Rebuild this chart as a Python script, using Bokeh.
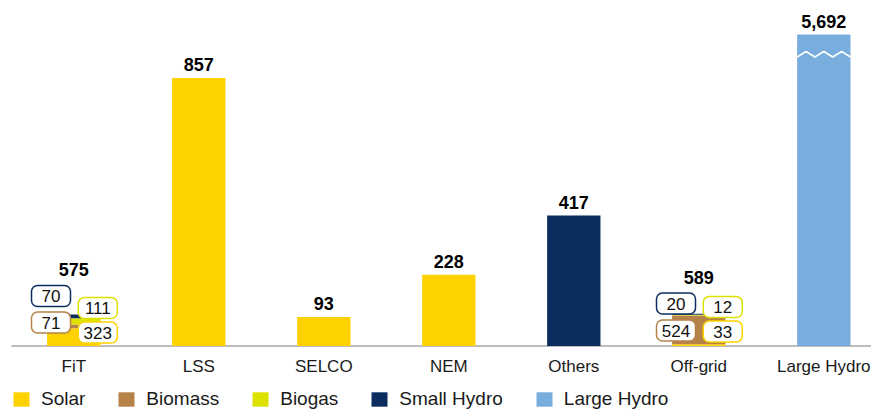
from bokeh.plotting import figure
from bokeh.models import Range1d, ColumnDataSource, Legend, LegendItem
from bokeh.core.properties import value
from bokeh.embed import file_html
from bokeh.resources import INLINE

# ---------------- data ----------------
categories = ["FiT", "LSS", "SELCO", "NEM", "Others", "Off-grid", "Large Hydro"]
solar = [323, 857, 93, 228, 0, 33, 0]
biomass = [71, 0, 0, 0, 0, 524, 0]
biogas = [111, 0, 0, 0, 0, 12, 0]
small_hydro = [70, 0, 0, 0, 417, 20, 0]
large_hydro = [0, 0, 0, 0, 0, 0, 5692]
# categories drawn on the true (compressed) scale; the others are magnified
true_scale = [True, False, False, False, False, True, True]
series_names = ["Solar", "Biomass", "Biogas", "Small Hydro", "Large Hydro"]

# ---------------- style / layout ----------------
colors = ["#FED200", "#B5834A", "#DDE100", "#0B2E5F", "#78ADDE"]
FONT = "Liberation Sans"
W, H = 871, 410
BASE = 64.5          # px from the frame bottom to the zero line
PXU = 125.0          # px per category
X0 = -0.5864
K_MAIN = 0.3128      # px per unit (magnified scale)
K_TRUE = 0.05473     # px per unit (true scale)
BAR_W = 0.4267

keys = ["solar", "biomass", "biogas", "small_hydro", "large_hydro"]
series = [solar, biomass, biogas, small_hydro, large_hydro]
totals = [sum(s[i] for s in series) for i in range(len(categories))]

p = figure(width=W, height=H,
           x_range=Range1d(X0, X0 + W / PXU),
           y_range=Range1d(-BASE / K_MAIN, (H - BASE) / K_MAIN),
           x_axis_type=None, y_axis_type=None,
           toolbar_location=None, output_backend="svg",
           min_border=0, outline_line_color=None)
p.extra_y_ranges = {"true": Range1d(-BASE / K_TRUE, (H - BASE) / K_TRUE),
                    "px": Range1d(-BASE, H - BASE)}

# baseline
p.segment(x0=[-0.5], y0=[0], x1=[len(categories) - 0.5 + 2], y1=[0],
          line_color="#BDBDBD", line_width=2)

def make_src(flag):
    idx = [i for i in range(len(categories)) if true_scale[i] == flag]
    d = {"x": idx}
    for k, s in zip(keys, series):
        d[k] = [s[i] for i in idx]
    return ColumnDataSource(d)

rs_main = p.vbar_stack(keys, x="x", width=BAR_W, fill_color=colors, line_color=None,
                       source=make_src(False))
rs_true = p.vbar_stack(keys, x="x", width=BAR_W, fill_color=colors, line_color=None,
                       source=make_src(True), y_range_name="true")

# zigzag break on the large hydro bar
lh = categories.index("Large Hydro")
top_px = totals[lh] * K_TRUE
zx = [lh + (f / 6 - 0.5) * BAR_W for f in range(7)]
zy = [top_px - (17 if f % 2 else 22.5) for f in range(7)]
p.line(zx, zy, line_color="white", line_width=1.6, y_range_name="px")

# callout boxes for stacked bars: (series index, column, centre px above baseline)
box_layout = {
    "FiT": [(3, "L", 50), (1, "L", 23.5), (2, "R", 38), (0, "R", 13.5)],
    "Off-grid": [(3, "L", 42.5), (1, "L", 15.5), (2, "R", 39), (0, "R", 14.5)],
}
bx, by, bt, bc = [], [], [], []
total_y = {}
for cat, items in box_layout.items():
    ci = categories.index(cat)
    tops = []
    for si, col, ypx in items:
        left = -42.3 if col == "L" else 4.5
        bx.append(ci + (left + 19.5) / PXU)
        by.append(ypx)
        bt.append(f"{series[si][ci]:,}")
        bc.append(colors[si])
        tops.append(ypx + 10.5)
    total_y[ci] = max(tops) + 16
p.rect(x=bx, y=by, width=39, height=21, width_units="screen", height_units="screen",
       fill_color="white", line_color=bc, line_width=1.5, border_radius=6,
       y_range_name="px")
p.text(x=bx, y=by, text=bt, text_align="center", text_baseline="middle",
       text_font=value(FONT), text_font_size="17px", text_color="#111111",
       y_range_name="px")

# total labels
lx, ly, lt = [], [], []
for i, t in enumerate(totals):
    lx.append(i)
    if i in total_y:
        ly.append(total_y[i])
    else:
        ly.append(t * (K_TRUE if true_scale[i] else K_MAIN) + 13)
    lt.append(f"{t:,}")
p.text(x=lx, y=ly, text=lt, text_align="center", text_baseline="alphabetic",
       text_font=value(FONT), text_font_size="18px", text_font_style="bold",
       text_color="#000000", y_range_name="px")

# category labels
p.text(x=list(range(len(categories))), y=[-20.5] * len(categories), text=categories,
       text_align="center", text_baseline="middle", text_font=value(FONT),
       text_font_size="17px", text_color="#1a1a1a", y_range_name="px")

# legend
leg_renderers = [rs_main[0], rs_true[1], rs_true[2], rs_main[3], rs_true[4]]
legend = Legend(items=[LegendItem(label=n, renderers=[r]) for n, r in zip(series_names, leg_renderers)],
                location=(11, 0), orientation="horizontal", padding=0, margin=0,
                spacing=31, glyph_width=20, glyph_height=18, label_standoff=10,
                label_text_font=FONT, label_text_font_size="19px",
                label_text_color="#1a1a1a", border_line_color=None,
                background_fill_alpha=0)
p.add_layout(legend)

open("out.html", "w").write(file_html(p, INLINE))
